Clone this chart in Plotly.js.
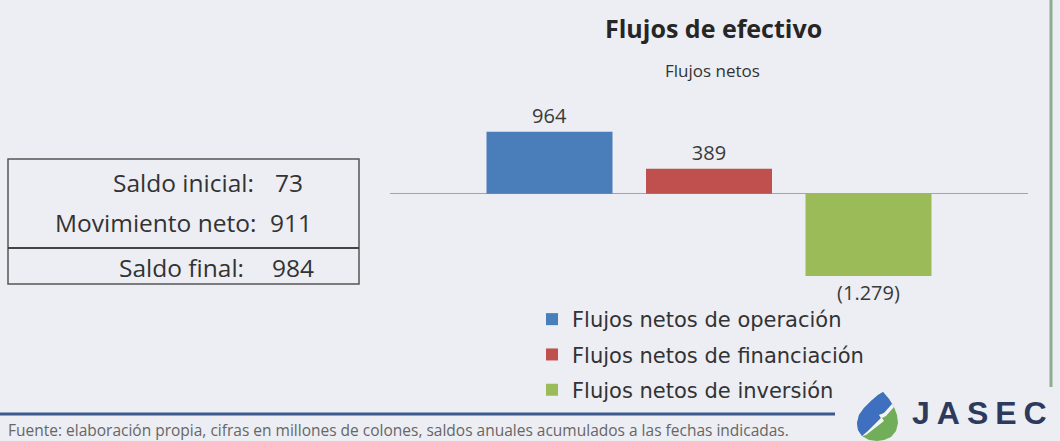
<!DOCTYPE html>
<html>
<head>
<meta charset="utf-8">
<script src="https://cdn.plot.ly/plotly-3.0.1.min.js"></script>
<style>
  html, body { margin: 0; padding: 0; background: #eceef3; }
  #chart { width: 1060px; height: 441px; }
</style>
</head>
<body>
<div id="chart"></div>
<script>
// ---- data ----
const categories = ["Flujos netos de operación", "Flujos netos de financiación", "Flujos netos de inversión"];
const values = [964, 389, -1279];
const valueLabels = ["964", "389", "(1.279)"];
const saldoLabels = ["Saldo inicial:", "Movimiento neto:", "Saldo final:"];
const saldoValues = ["73", "911", "984"];
const chartTitle = "Flujos de efectivo";
const chartSubtitle = "Flujos netos";
const sourceNote = "Fuente: elaboración propia, cifras en millones de colones, saldos anuales acumulados a las fechas indicadas.";
const logoText = "JASEC";

// ---- style ----
const colors = ["#4a7ebb", "#c0504d", "#9bbb59"];
const W = 1060, H = 441;
const M = { l: 390, r: 32, t: 100, b: 141 };
const PW = W - M.l - M.r, PH = H - M.t - M.b;
const px = x => (x - M.l) / PW;        // pixel x -> paper x
const py = y => (H - M.b - y) / PH;    // pixel y -> paper y
const textFont = "Open Sans, sans-serif";
const textColor = "#3a3a3a";

const traces = categories.map((c, i) => ({
  type: "bar",
  name: c,
  legendgroup: "g" + i,
  x: [c],
  y: [values[i]],
  width: 0.79,
  text: [valueLabels[i]],
  textposition: "outside",
  textfont: { family: textFont, size: 20, color: textColor },
  cliponaxis: false,
  marker: { color: colors[i], line: { width: 0 } },
  hoverinfo: "skip"
}));

const annotations = [
  { text: "<b>" + chartTitle + "</b>", xref: "paper", yref: "paper", x: px(713), y: py(28),
    xanchor: "center", yanchor: "middle", showarrow: false,
    font: { family: textFont, size: 25, color: "#262626" } },
  { text: chartSubtitle, xref: "paper", yref: "paper", x: px(712), y: py(70),
    xanchor: "center", yanchor: "middle", showarrow: false,
    font: { family: textFont, size: 17, color: "#333333" } },
  { text: sourceNote, xref: "paper", yref: "paper", x: px(6), y: py(443),
    xanchor: "left", yanchor: "bottom", showarrow: false,
    font: { family: textFont, size: 15.5, color: "#666666" } },
  { text: '<b><span style="letter-spacing:7px">' + logoText + '</span></b>', xref: "paper", yref: "paper",
    x: px(910), y: py(413), xanchor: "left", yanchor: "middle", showarrow: false,
    font: { family: "Liberation Sans, Arial, sans-serif", size: 32, color: "#2d3a5c" } }
];
const labelRight = [256, 258, 246];
const valueLeft = [273, 268, 270];
const rowY = [182, 222, 267];
saldoLabels.forEach((s, i) => {
  annotations.push({ text: s, xref: "paper", yref: "paper", x: px(labelRight[i]), y: py(rowY[i]),
    xanchor: "right", yanchor: "middle", showarrow: false,
    font: { family: textFont, size: 24.5, color: "#333333" } });
  annotations.push({ text: saldoValues[i], xref: "paper", yref: "paper", x: px(valueLeft[i]), y: py(rowY[i]),
    xanchor: "left", yanchor: "middle", showarrow: false,
    font: { family: textFont, size: 24.5, color: "#333333" } });
});

// logo drop (pixel polygons converted to paper)
function poly(pts) {
  return pts.map((p, i) => (i ? "L" : "M") + px(p[0]).toFixed(5) + "," + py(p[1]).toFixed(5)).join(" ") + " Z";
}
const dropOutline = [[883,392],[889,399],[894,407],[897,415],[898,423],[896,431],[891,437],[884,440],[877,441],
                     [869,440],[862,436],[858,430],[857,423],[859,415],[864,408],[871,401],[878,395]];
const blueOutline = [[883,392],[889,399],[892,404],[884,413],[879,415],[881,418],[868,431],[862,436],[858,430],
                     [857,423],[859,415],[864,408],[871,401],[878,395]];
const boltOutline = [[892,404],[894,407],[886,416],[882,418],[884,421],[866,435],[862,436],[868,431],[881,418],
                     [879,415],[884,413]];

const shapes = [
  { type: "rect", xref: "paper", yref: "paper", x0: px(8), x1: px(359), y0: py(159), y1: py(284),
    line: { color: "#555555", width: 1.5 }, fillcolor: "rgba(0,0,0,0)" },
  { type: "line", xref: "paper", yref: "paper", x0: px(8), x1: px(359), y0: py(248), y1: py(248),
    line: { color: "#444444", width: 2 } },
  { type: "line", xref: "paper", yref: "paper", x0: px(0), x1: px(835), y0: py(414), y1: py(414),
    line: { color: "#3d5a8e", width: 3 } },
  { type: "line", xref: "paper", yref: "paper", x0: px(1051), x1: px(1051), y0: py(0), y1: py(387),
    line: { color: "#8fae8f", width: 3 } },
  { type: "path", xref: "paper", yref: "paper", path: poly(dropOutline), fillcolor: "#72ad5a", line: { width: 0 } },
  { type: "path", xref: "paper", yref: "paper", path: poly(blueOutline), fillcolor: "#3f6fbf", line: { width: 0 } },
  { type: "path", xref: "paper", yref: "paper", path: poly(boltOutline), fillcolor: "#f2f5f8", line: { width: 0 } }
];

const layout = {
  width: W, height: H,
  margin: M,
  paper_bgcolor: "#eceef3",
  plot_bgcolor: "#eceef3",
  barmode: "overlay",
  showlegend: true,
  legend: {
    x: px(532), y: py(299), xanchor: "left", yanchor: "top",
    bgcolor: "rgba(0,0,0,0)",
    traceorder: "grouped", tracegroupgap: 5,
    font: { family: "DejaVu Sans, sans-serif", size: 21, color: "#333333" }
  },
  xaxis: {
    type: "category", categoryarray: categories, range: [-1, 3],
    showticklabels: false, showgrid: false, zeroline: false, showline: false, ticks: ""
  },
  yaxis: {
    range: [-1650, 1455],
    showticklabels: false, showgrid: false, ticks: "",
    zeroline: true, zerolinecolor: "#a3a3ad", zerolinewidth: 1.5, showline: false
  },
  annotations: annotations,
  shapes: shapes
};

Plotly.newPlot("chart", traces, layout, { displayModeBar: false, staticPlot: true });
</script>
</body>
</html>
